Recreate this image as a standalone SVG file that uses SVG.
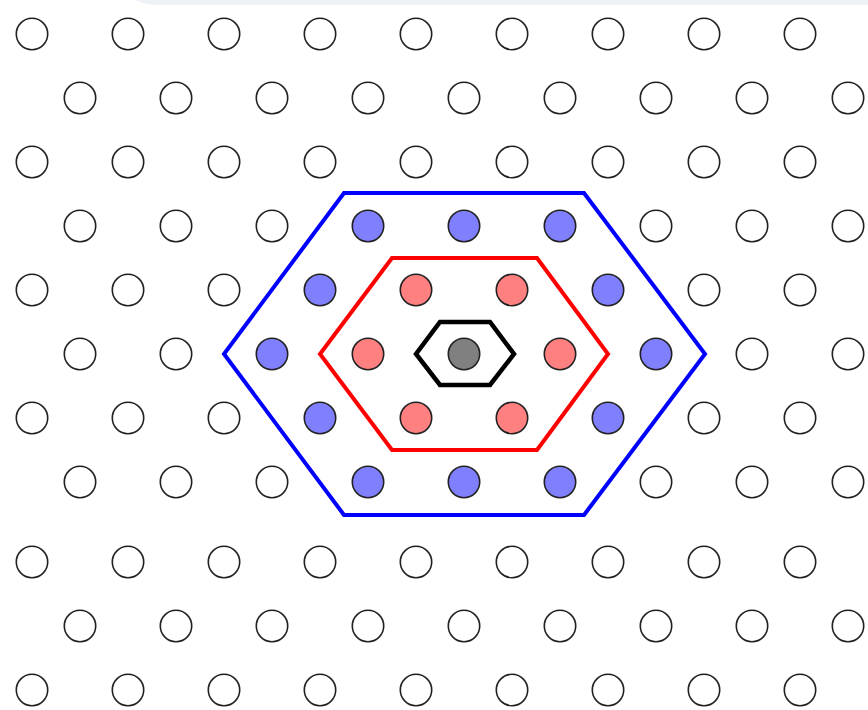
<svg xmlns="http://www.w3.org/2000/svg" width="868" height="710" viewBox="0 0 868 710">
<style>
circle{stroke:#222;stroke-width:1.6}
.w{fill:#fff}
.b{fill:#8080ff}
.r{fill:#ff8080}
.g{fill:#808080}
.hex{fill:none;stroke-linejoin:miter}
</style>
<rect x="0" y="0" width="868" height="710" fill="#fff"/>
<rect x="122" y="-40" width="800" height="45" rx="36" fill="#eef1f5"/>
<g id="row1"><circle class="w" cx="32" cy="34" r="15.7"/><circle class="w" cx="128" cy="34" r="15.7"/><circle class="w" cx="224" cy="34" r="15.7"/><circle class="w" cx="320" cy="34" r="15.7"/><circle class="w" cx="416" cy="34" r="15.7"/><circle class="w" cx="512" cy="34" r="15.7"/><circle class="w" cx="608" cy="34" r="15.7"/><circle class="w" cx="704" cy="34" r="15.7"/><circle class="w" cx="800" cy="34" r="15.7"/></g>
<g id="row2"><circle class="w" cx="80" cy="98" r="15.7"/><circle class="w" cx="176" cy="98" r="15.7"/><circle class="w" cx="272" cy="98" r="15.7"/><circle class="w" cx="368" cy="98" r="15.7"/><circle class="w" cx="464" cy="98" r="15.7"/><circle class="w" cx="560" cy="98" r="15.7"/><circle class="w" cx="656" cy="98" r="15.7"/><circle class="w" cx="752" cy="98" r="15.7"/><circle class="w" cx="848" cy="98" r="15.7"/></g>
<g id="row3"><circle class="w" cx="32" cy="162" r="15.7"/><circle class="w" cx="128" cy="162" r="15.7"/><circle class="w" cx="224" cy="162" r="15.7"/><circle class="w" cx="320" cy="162" r="15.7"/><circle class="w" cx="416" cy="162" r="15.7"/><circle class="w" cx="512" cy="162" r="15.7"/><circle class="w" cx="608" cy="162" r="15.7"/><circle class="w" cx="704" cy="162" r="15.7"/><circle class="w" cx="800" cy="162" r="15.7"/></g>
<g id="row4"><circle class="w" cx="80" cy="226" r="15.7"/><circle class="w" cx="176" cy="226" r="15.7"/><circle class="w" cx="272" cy="226" r="15.7"/><circle class="b" cx="368" cy="226" r="15.7"/><circle class="b" cx="464" cy="226" r="15.7"/><circle class="b" cx="560" cy="226" r="15.7"/><circle class="w" cx="656" cy="226" r="15.7"/><circle class="w" cx="752" cy="226" r="15.7"/><circle class="w" cx="848" cy="226" r="15.7"/></g>
<g id="row5"><circle class="w" cx="32" cy="290" r="15.7"/><circle class="w" cx="128" cy="290" r="15.7"/><circle class="w" cx="224" cy="290" r="15.7"/><circle class="b" cx="320" cy="290" r="15.7"/><circle class="r" cx="416" cy="290" r="15.7"/><circle class="r" cx="512" cy="290" r="15.7"/><circle class="b" cx="608" cy="290" r="15.7"/><circle class="w" cx="704" cy="290" r="15.7"/><circle class="w" cx="800" cy="290" r="15.7"/></g>
<g id="row6"><circle class="w" cx="80" cy="354" r="15.7"/><circle class="w" cx="176" cy="354" r="15.7"/><circle class="b" cx="272" cy="354" r="15.7"/><circle class="r" cx="368" cy="354" r="15.7"/><circle class="g" cx="464" cy="354" r="15.7"/><circle class="r" cx="560" cy="354" r="15.7"/><circle class="b" cx="656" cy="354" r="15.7"/><circle class="w" cx="752" cy="354" r="15.7"/><circle class="w" cx="848" cy="354" r="15.7"/></g>
<g id="row7"><circle class="w" cx="32" cy="418" r="15.7"/><circle class="w" cx="128" cy="418" r="15.7"/><circle class="w" cx="224" cy="418" r="15.7"/><circle class="b" cx="320" cy="418" r="15.7"/><circle class="r" cx="416" cy="418" r="15.7"/><circle class="r" cx="512" cy="418" r="15.7"/><circle class="b" cx="608" cy="418" r="15.7"/><circle class="w" cx="704" cy="418" r="15.7"/><circle class="w" cx="800" cy="418" r="15.7"/></g>
<g id="row8"><circle class="w" cx="80" cy="482" r="15.7"/><circle class="w" cx="176" cy="482" r="15.7"/><circle class="w" cx="272" cy="482" r="15.7"/><circle class="b" cx="368" cy="482" r="15.7"/><circle class="b" cx="464" cy="482" r="15.7"/><circle class="b" cx="560" cy="482" r="15.7"/><circle class="w" cx="656" cy="482" r="15.7"/><circle class="w" cx="752" cy="482" r="15.7"/><circle class="w" cx="848" cy="482" r="15.7"/></g>
<g id="row9"><circle class="w" cx="32" cy="562" r="15.7"/><circle class="w" cx="128" cy="562" r="15.7"/><circle class="w" cx="224" cy="562" r="15.7"/><circle class="w" cx="320" cy="562" r="15.7"/><circle class="w" cx="416" cy="562" r="15.7"/><circle class="w" cx="512" cy="562" r="15.7"/><circle class="w" cx="608" cy="562" r="15.7"/><circle class="w" cx="704" cy="562" r="15.7"/><circle class="w" cx="800" cy="562" r="15.7"/></g>
<g id="row10"><circle class="w" cx="80" cy="626" r="15.7"/><circle class="w" cx="176" cy="626" r="15.7"/><circle class="w" cx="272" cy="626" r="15.7"/><circle class="w" cx="368" cy="626" r="15.7"/><circle class="w" cx="464" cy="626" r="15.7"/><circle class="w" cx="560" cy="626" r="15.7"/><circle class="w" cx="656" cy="626" r="15.7"/><circle class="w" cx="752" cy="626" r="15.7"/><circle class="w" cx="848" cy="626" r="15.7"/></g>
<g id="row11"><circle class="w" cx="32" cy="690" r="15.7"/><circle class="w" cx="128" cy="690" r="15.7"/><circle class="w" cx="224" cy="690" r="15.7"/><circle class="w" cx="320" cy="690" r="15.7"/><circle class="w" cx="416" cy="690" r="15.7"/><circle class="w" cx="512" cy="690" r="15.7"/><circle class="w" cx="608" cy="690" r="15.7"/><circle class="w" cx="704" cy="690" r="15.7"/><circle class="w" cx="800" cy="690" r="15.7"/></g>
<g id="hexagons">
<polygon class="hex" points="344,193 584,193 705,354 584,515 344,515 224,354" stroke="#0000ff" stroke-width="4"/>
<polygon class="hex" points="392,258 537,258 608,354 537,450 392,450 320,354" stroke="#ff0000" stroke-width="4"/>
<polygon class="hex" points="440,322 490,322 514,354 490,385 440,385 416,354" stroke="#000" stroke-width="4.5"/>
</g>
</svg>
